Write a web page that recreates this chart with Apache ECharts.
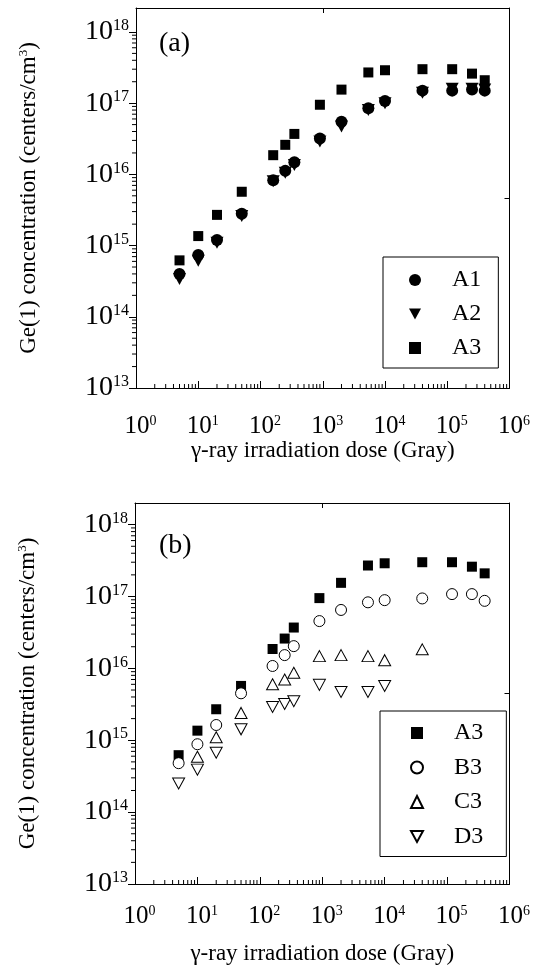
<!DOCTYPE html>
<html>
<head>
<meta charset="utf-8">
<script src="https://cdn.jsdelivr.net/npm/echarts@6/dist/echarts.min.js"></script>
<style>
  html, body { margin: 0; padding: 0; background: #fff; }
  #main { width: 533px; height: 972px; }
</style>
</head>
<body>
<div id="main"></div>
<script>
var myChart = echarts.init(document.getElementById('main'));

// dose (Gray)
var dose = [5, 10, 20, 50, 160, 250, 350, 900, 2000, 5400, 10000, 40000, 120000, 250000, 400000];

// panel (a)
var A1 = [4.0e14, 7.4e14, 1.2e15, 2.8e15, 8.3e15, 1.12e16, 1.48e16, 3.2e16, 5.5e16, 8.5e16, 1.07e17, 1.5e17, 1.5e17, 1.55e17, 1.5e17];
var A2 = [3.4e14, 6.1e14, 1.1e15, 2.6e15, 8.0e15, 1.05e16, 1.35e16, 2.9e16, 4.7e16, 8.0e16, 1.0e17, 1.4e17, 1.6e17, 1.6e17, 1.55e17];
var A3 = [6.2e14, 1.36e15, 2.7e15, 5.7e15, 1.86e16, 2.6e16, 3.7e16, 9.5e16, 1.55e17, 2.7e17, 2.9e17, 3.0e17, 3.0e17, 2.6e17, 2.1e17];

// panel (b)
var B3 = [4.8e14, 8.8e14, 1.63e15, 4.5e15, 1.08e16, 1.53e16, 2.04e16, 4.55e16, 6.5e16, 8.3e16, 8.9e16, 9.4e16, 1.08e17, 1.08e17, 8.7e16];
var C3 = [null, 5.9e14, 1.1e15, 2.4e15, 6.0e15, 7.0e15, 8.7e15, 1.48e16, 1.53e16, 1.48e16, 1.3e16, 1.84e16, null, null, null];
var D3 = [2.5e14, 3.9e14, 6.7e14, 1.42e15, 2.9e15, 3.2e15, 3.5e15, 5.9e15, 4.7e15, 4.7e15, 5.7e15, null, null, null, null];

// tick labels (powers of ten)
var xTickExp = [0, 1, 2, 3, 4, 5, 6];
var yTickExp = [13, 14, 15, 16, 17, 18];

var FONT = '"Liberation Serif", "DejaVu Serif", serif';
var DOWN_TRI = 'path://M0,0L12,0L6,11Z';

function pairs(ys) {
  var out = [];
  for (var i = 0; i < dose.length; i++) {
    if (ys[i] != null) out.push([dose[i], ys[i]]);
  }
  return out;
}

function powLabel(list) {
  return function (v) {
    var e = Math.log10(v);
    var r = Math.round(e);
    if (Math.abs(e - r) > 1e-6 || list.indexOf(r) < 0) return '';
    return '{b|10}{s|' + r + '}';
  };
}

// minor tick positions 2..9 x 10^n
var xMinor = [], yMinor = [];
xTickExp.slice(0, -1).forEach(function (e) {
  for (var k = 2; k <= 9; k++) xMinor.push(k * Math.pow(10, e));
});
yTickExp.slice(0, -1).forEach(function (e) {
  for (var k = 2; k <= 9; k++) yMinor.push(k * Math.pow(10, e));
});

function xAxisMain(gi, labelMargin, nameGap) {
  return {
    type: 'log', logBase: 10, gridIndex: gi, min: 1, max: 1e6,
    axisLine: { lineStyle: { color: '#000', width: 1 } },
    axisTick: { inside: true, length: 7, lineStyle: { color: '#000' } },
    splitLine: { show: false },
    axisLabel: {
      formatter: powLabel(xTickExp), margin: labelMargin, color: '#000',
      rich: {
        b: { fontFamily: FONT, fontSize: 25, color: '#000', padding: [0, 0, 0, 9] },
        s: { fontFamily: FONT, fontSize: 14, color: '#000', verticalAlign: 'top' }
      }
    },
    name: 'γ-ray irradiation dose (Gray)', nameLocation: 'middle', nameGap: nameGap,
    nameTextStyle: { fontFamily: FONT, fontSize: 23, color: '#000' }
  };
}

function yAxisMain(gi, max) {
  return {
    type: 'log', logBase: 10, gridIndex: gi, min: 1e13, max: max,
    axisLine: { lineStyle: { color: '#000', width: 1 } },
    axisTick: { inside: false, length: 7, lineStyle: { color: '#000' } },
    splitLine: { show: false },
    axisLabel: {
      formatter: powLabel(yTickExp), margin: 7, showMaxLabel: false,
      rich: {
        b: { fontFamily: FONT, fontSize: 28, color: '#000' },
        s: { fontFamily: FONT, fontSize: 16, color: '#000', verticalAlign: 'top' }
      }
    },
    name: 'Ge(1) concentration (centers/cm{s|3})', nameLocation: 'middle', nameGap: 96,
    nameTextStyle: {
      fontFamily: FONT, fontSize: 23, color: '#000',
      rich: { s: { fontFamily: FONT, fontSize: 13, color: '#000', verticalAlign: 'top' } }
    }
  };
}

function mirrorX(gi) {
  return {
    type: 'value', gridIndex: gi, position: 'top', min: 0, max: 6, interval: 3,
    axisLine: { lineStyle: { color: '#000' } },
    axisTick: { inside: true, length: 5, lineStyle: { color: '#000' } },
    axisLabel: { show: false }, splitLine: { show: false }
  };
}
function mirrorY(gi) {
  return {
    type: 'value', gridIndex: gi, position: 'right', min: 0, max: 2, interval: 1,
    axisLine: { lineStyle: { color: '#000' } },
    axisTick: { inside: true, length: 5, lineStyle: { color: '#000' } },
    axisLabel: { show: false }, splitLine: { show: false }
  };
}

function yMinorSeries(xi, yi) {
  return {
    type: 'custom', xAxisIndex: xi, yAxisIndex: yi, silent: true, clip: false,
    data: yMinor.map(function (v) { return [1, v]; }),
    renderItem: function (params, api) {
      var p = api.coord([api.value(0), api.value(1)]);
      return { type: 'line', shape: { x1: p[0] - 4, y1: p[1], x2: p[0], y2: p[1] },
        style: { stroke: '#000', lineWidth: 1 } };
    }
  };
}
function xMinorSeries(xi, yi) {
  return {
    type: 'custom', xAxisIndex: xi, yAxisIndex: yi, silent: true, clip: false,
    data: xMinor.map(function (v) { return [v, 1e13]; }),
    renderItem: function (params, api) {
      var p = api.coord([api.value(0), api.value(1)]);
      return { type: 'line', shape: { x1: p[0], y1: p[1], x2: p[0], y2: p[1] - 4 },
        style: { stroke: '#000', lineWidth: 1 } };
    }
  };
}

function scatter(name, ys, xi, yi, symbol, size, filled) {
  return {
    name: name, type: 'scatter', xAxisIndex: xi, yAxisIndex: yi,
    symbol: symbol, symbolSize: size,
    itemStyle: filled ? { color: '#000', borderWidth: 0, opacity: 1 } :
      { color: '#fff', borderColor: '#000', borderWidth: 1, opacity: 1 },
    data: pairs(ys)
  };
}

var legendBase = {
  orient: 'vertical', itemWidth: 12, itemHeight: 12, itemGap: 10,
  borderColor: '#000', borderWidth: 1, backgroundColor: '#fff',
  textStyle: { fontFamily: FONT, fontSize: 24, color: '#000', lineHeight: 24, padding: [0, 0, 0, 26] },
  selectedMode: false
};

var option = {
  animation: false,
  backgroundColor: '#fff',
  title: [
    { text: '(a)', left: 159, top: 30, padding: 0,
      textStyle: { fontFamily: FONT, fontSize: 28, fontWeight: 'normal', color: '#000' } },
    { text: '(b)', left: 159, top: 532, padding: 0,
      textStyle: { fontFamily: FONT, fontSize: 28, fontWeight: 'normal', color: '#000' } }
  ],
  legend: [
    Object.assign({}, legendBase, { data: ['A1', 'A2', 'A3'], left: 383, top: 257, padding: [11, 17, 8, 26] }),
    Object.assign({}, legendBase, { data: ['A3 ', 'B3', 'C3', 'D3'], left: 380, top: 711, padding: [10, 17, 8, 30], itemGap: 10.5 })
  ],
  grid: [
    { left: 136, right: 18, top: 8, height: 380 },
    { left: 135, right: 17, top: 503, height: 381 }
  ],
  xAxis: [xAxisMain(0, 26, 46), mirrorX(0), xAxisMain(1, 20, 58), mirrorX(1)],
  yAxis: [yAxisMain(0, 2.17e18), mirrorY(0), yAxisMain(1, 2.0e18), mirrorY(1)],
  series: [
    yMinorSeries(0, 0), xMinorSeries(0, 0),
    yMinorSeries(2, 2), xMinorSeries(2, 2),
    scatter('A1', A1, 0, 0, 'circle', 12, true),
    scatter('A2', A2, 0, 0, DOWN_TRI, [13, 12], true),
    scatter('A3', A3, 0, 0, 'rect', 10, true),
    scatter('A3 ', A3, 2, 2, 'rect', 10, true),
    scatter('B3', B3, 2, 2, 'circle', 11, false),
    scatter('C3', C3, 2, 2, 'triangle', [12, 11], false),
    scatter('D3', D3, 2, 2, DOWN_TRI, [12, 11], false)
  ]
};

myChart.setOption(option);
</script>
</body>
</html>
